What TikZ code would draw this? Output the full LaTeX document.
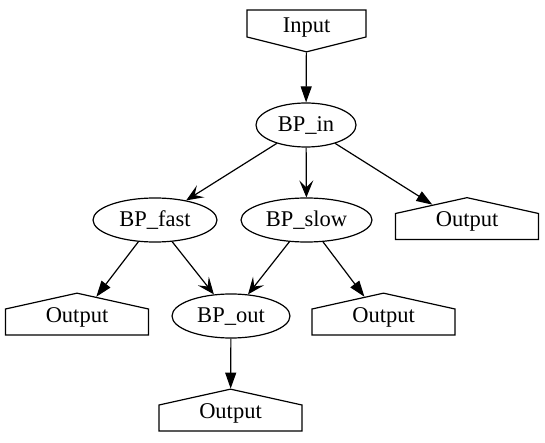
\documentclass[tikz,border=0pt]{standalone}
\usepackage{fontspec}
\setmainfont{Liberation Serif}
\usetikzlibrary{arrows.meta,shapes.geometric,shapes.symbols}

\begin{document}
\begin{tikzpicture}[x=1pt,y=-1pt,line width=1.2pt,
	font=\fontsize{22.5}{26}\selectfont,
	every node/.style={draw, inner sep=0pt},
	bp/.style={ellipse, minimum height=44pt, text height=13.5pt, text depth=0pt},
	outp/.style={signal, signal to=north, signal pointer angle=155, minimum width=143pt, text height=13pt, text depth=13pt},
	inp/.style={signal, signal to=south, signal pointer angle=152, minimum width=119pt, text height=23pt, text depth=4pt},
	tri/.style={-{Triangle[length=16pt,width=11pt]}},
	vee/.style={-{Stealth[length=17pt,width=14pt,inset=7pt]}}]

	\useasboundingbox (0,0) rectangle (545,443);

	% nodes
	\node[inp] (in) at (306.5,23.5) {Input};
	\node[bp, minimum width=100pt] (bpin) at (306,125) {BP\_in};
	\node[bp, minimum width=124pt] (bpfast) at (155,220) {BP\_fast};
	\node[bp, minimum width=131pt] (bpslow) at (306.5,220) {BP\_slow};
	\node[bp, minimum width=118pt] (bpout) at (231,316) {BP\_out};

	\node[outp] (outa) at (467,226.5) {Output};
	\node[outp] (outb) at (77,322) {Output};
	\node[outp] (outc) at (383.5,322) {Output};
	\node[outp] (outd) at (230.5,418) {Output};

	% edges
	\draw[tri] (in) -- (bpin);
	\draw[vee] (bpin) -- (bpfast);
	\draw[vee] (bpin) -- (bpslow);
	\draw[tri] (bpin) -- (outa);
	\draw[tri] (bpfast) -- (outb);
	\draw[vee] (bpfast) -- (bpout);
	\draw[vee] (bpslow) -- (bpout);
	\draw[tri] (bpslow) -- (outc);
	\draw[tri] (bpout) -- (outd);

\end{tikzpicture}
\end{document}
